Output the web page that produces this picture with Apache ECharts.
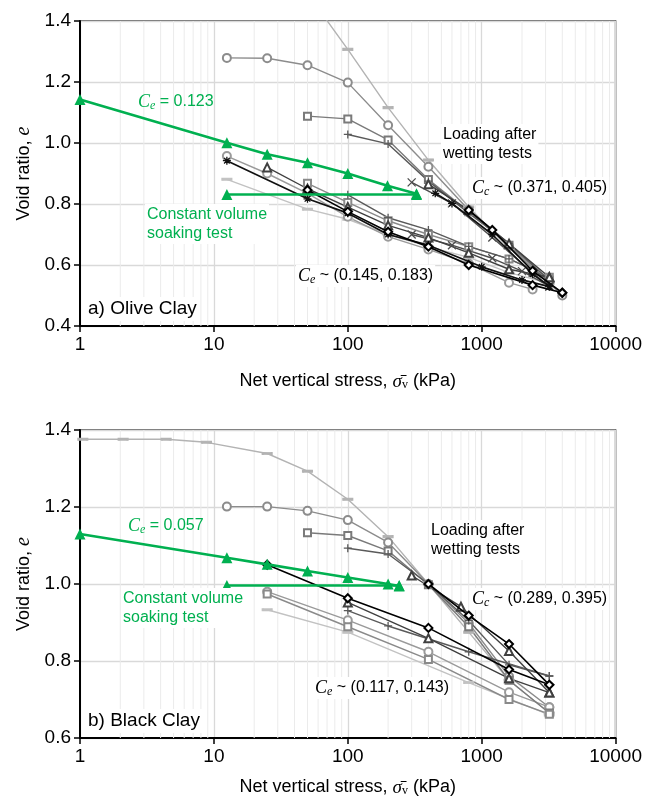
<!DOCTYPE html>
<html><head><meta charset="utf-8">
<script src="https://cdn.jsdelivr.net/npm/echarts/dist/echarts.min.js"></script>
<style>html,body{margin:0;padding:0;background:#fff}#c{width:645px;height:799px}</style>
</head><body><div id="c"></div>
<script>
// ---------- DATA (net vertical stress kPa, void ratio e) ----------
const X_TICKS = [1, 10, 100, 1000, 10000];
// a) Olive Clay - loading after wetting (upper group)
const oU_dash    = [[50,1.49],[100,1.307],[200,1.116],[400,0.944],[800,0.79],[1600,0.655],[3200,0.545]];
const oU_circle  = [[12.5,1.279],[25,1.278],[50,1.255],[100,1.198],[200,1.058],[400,0.922],[800,0.780],[1600,0.662],[4000,0.50]];
const oU_square  = [[50,1.088],[100,1.079],[200,1.010],[400,0.880],[800,0.775],[1600,0.665],[3200,0.55]];
const oU_plus    = [[100,1.028],[200,0.997],[400,0.875],[800,0.77],[1600,0.671],[3200,0.55]];
const oU_cross   = [[300,0.871],[600,0.802],[1200,0.69],[2400,0.575],[3200,0.529]];
const oU_tri     = [[400,0.865],[800,0.78],[1600,0.67],[3200,0.560]];
const oU_star    = [[450,0.835],[600,0.802],[1200,0.70],[2400,0.57],[3200,0.53]];
const oU_diamond = [[800,0.78],[1200,0.715],[2400,0.581],[4000,0.509]];
// a) Olive Clay - lower group
const oL_circle  = [[12.5,0.957],[25,0.90],[50,0.835],[100,0.758],[200,0.693],[400,0.651],[800,0.605],[1600,0.542],[2400,0.52]];
const oL_star    = [[12.5,0.942],[50,0.817],[100,0.77],[200,0.70],[400,0.665],[1000,0.594],[2000,0.551],[3200,0.529]];
const oL_tri     = [[25,0.920],[50,0.85],[100,0.79],[200,0.73],[400,0.69],[800,0.64],[1600,0.586],[3200,0.56]];
const oL_square  = [[50,0.868],[100,0.805],[200,0.745],[400,0.70],[800,0.66],[1600,0.62],[3200,0.56]];
const oL_diamond = [[50,0.846],[100,0.775],[200,0.709],[400,0.66],[800,0.600],[2400,0.534],[4000,0.509]];
const oL_dash    = [[12.5,0.881],[50,0.783],[100,0.75],[200,0.70],[400,0.66],[800,0.625],[1600,0.575],[3200,0.54]];
const oL_plus    = [[100,0.83],[200,0.755],[400,0.715],[800,0.661],[1600,0.62],[2400,0.585],[3200,0.55]];
const oL_cross   = [[300,0.70],[600,0.665],[1200,0.622],[2000,0.58],[3200,0.53]];
// a) Olive Clay - constant volume soaking test
const oG_unload  = [[326,0.834],[198,0.860],[100,0.900],[50,0.935],[25,0.963],[12.5,1.001],[1,1.143]];
const oG_const   = [[12.5,0.831],[326,0.831]];
// b) Black Clay - upper group
const bU_dash    = [[1.05,1.376],[2.1,1.376],[4.4,1.376],[8.8,1.368],[25,1.339],[50,1.293],[100,1.220],[200,1.123],[400,1.0],[800,0.875],[1600,0.75],[3200,0.665]];
const bU_circle  = [[12.5,1.201],[25,1.201],[50,1.190],[100,1.166],[200,1.108],[400,1.0],[800,0.898],[1600,0.76],[3200,0.68]];
const bU_square  = [[50,1.133],[100,1.126],[200,1.086],[400,0.998],[800,0.889],[1600,0.75],[3200,0.665]];
const bU_plus    = [[100,1.093],[200,1.078],[400,1.0],[800,0.905],[1600,0.79],[3200,0.761]];
const bU_tri     = [[300,1.022],[700,0.941],[1600,0.826],[3200,0.718]];
const bU_diamond = [[400,1.0],[800,0.918],[1600,0.844],[3200,0.738]];
// b) Black Clay - lower group
const bL_diamond = [[25,1.05],[100,0.963],[400,0.886],[1600,0.778],[3200,0.738]];
const bL_tri     = [[100,0.952],[400,0.859],[1600,0.755],[3200,0.718]];
const bL_plus    = [[100,0.931],[200,0.891],[800,0.824],[3200,0.761]];
const bL_circle  = [[25,0.98],[100,0.906],[400,0.824],[1600,0.719],[3200,0.68]];
const bL_square  = [[25,0.974],[100,0.889],[400,0.804],[1600,0.70],[3200,0.662]];
const bL_dash    = [[25,0.933],[100,0.875],[800,0.744],[3200,0.66]];
// b) Black Clay - constant volume soaking test
const bG_unload  = [[242,0.995],[200,1.0],[100,1.017],[50,1.034],[25,1.051],[12.5,1.068],[1,1.130]];
const bG_const   = [[12.5,0.996],[242,0.996]];

// ---------- STYLES ----------
const SANS = 'Liberation Sans, Arial, sans-serif';
const SERIF = 'Liberation Serif, Times New Roman, serif';
const GREEN = '#00B050';
const PLUS = 'path://M0,5L10,5M5,0L5,10';
const CROSS = 'path://M1,1L9,9M9,1L1,9';
const STAR = 'path://M0,5L10,5M5,0L5,10M1.5,1.5L8.5,8.5M8.5,1.5L1.5,8.5';
const ST = {
  dashU:  {c:'#b3b3b3', s:'rect', z:[9,2.5], w:1.4, stroke:false},
  dashL:  {c:'#c2c2c2', s:'rect', z:[9,2.5], w:1.4, stroke:false},
  circ:   {c:'#8c8c8c', s:'emptyCircle', z:8, w:1.4, stroke:false},
  circL:  {c:'#9a9a9a', s:'emptyCircle', z:8, w:1.4, stroke:false},
  sq:     {c:'#7a7a7a', s:'emptyRect', z:7, w:1.4, stroke:false},
  sqL:    {c:'#8a8a8a', s:'emptyRect', z:7, w:1.4, stroke:false},
  plus:   {c:'#5a5a5a', s:PLUS, z:8, w:1.4, stroke:true},
  cross:  {c:'#4d4d4d', s:CROSS, z:8, w:1.4, stroke:true},
  tri:    {c:'#404040', s:'emptyTriangle', z:8, w:1.4, stroke:false},
  star:   {c:'#111111', s:STAR, z:8, w:1.7, stroke:true},
  dia:    {c:'#000000', s:'emptyDiamond', z:8, w:1.6, stroke:false}
};

function mkSeries(data, st, g, zz) {
  const S = ST[st];
  return {
    type:'line', data: data, xAxisIndex:g, yAxisIndex:g, z: zz || 3,
    symbol: S.s, symbolSize: S.z, showAllSymbol:true, clip:true,
    lineStyle:{color:S.c, width:S.w, type:'solid'},
    itemStyle:{color: S.stroke ? 'rgba(0,0,0,0)' : S.c, borderColor:S.c, borderWidth: S.stroke ? 1.3 : 1.1},
    emphasis:{disabled:true}, silent:true
  };
}
function mkGreen(data, g) {
  return {
    type:'line', data:data, xAxisIndex:g, yAxisIndex:g, z:6,
    symbol:'triangle', symbolSize:11, showAllSymbol:true,
    lineStyle:{color:GREEN, width:2.6}, itemStyle:{color:GREEN},
    emphasis:{disabled:true}, silent:true
  };
}

// minor log gridlines (2..9 per decade), drawn as broken line segments under the data
const minorLines = [];
for (let d = 1; d < 10000; d *= 10) for (let k = 2; k <= 9; k++) minorLines.push(d * k);
function mkMinor(g, lo, hi) {
  const pts = [];
  minorLines.forEach(v => { pts.push([v, lo], [v, hi], '-'); });
  return {
    type:'line', data:pts, xAxisIndex:g, yAxisIndex:g, z:1, zlevel:0, silent:true,
    symbol:'none', connectNulls:false, clip:true,
    lineStyle:{color:'#ebebeb', width:1}, emphasis:{disabled:true}
  };
}

const series = [
  mkMinor(0, 0.4, 1.4), mkMinor(1, 0.6, 1.4),
  mkSeries(oU_dash,'dashU',0), mkSeries(oL_dash,'dashL',0),
  mkSeries(oU_circle,'circ',0), mkSeries(oL_circle,'circL',0),
  mkSeries(oU_square,'sq',0), mkSeries(oL_square,'sqL',0),
  mkSeries(oU_plus,'plus',0), mkSeries(oL_plus,'plus',0),
  mkSeries(oU_cross,'cross',0), mkSeries(oL_cross,'cross',0),
  mkSeries(oU_tri,'tri',0), mkSeries(oL_tri,'tri',0),
  mkSeries(oU_star,'star',0,4), mkSeries(oL_star,'star',0,4),
  mkSeries(oU_diamond,'dia',0,4), mkSeries(oL_diamond,'dia',0,4),
  mkGreen(oG_const,0), mkGreen(oG_unload,0),
  mkSeries(bU_dash,'dashU',1), mkSeries(bL_dash,'dashL',1),
  mkSeries(bU_circle,'circ',1), mkSeries(bL_circle,'circL',1),
  mkSeries(bU_square,'sq',1), mkSeries(bL_square,'sqL',1),
  mkSeries(bU_plus,'plus',1), mkSeries(bL_plus,'plus',1),
  mkSeries(bU_tri,'tri',1), mkSeries(bL_tri,'tri',1),
  mkSeries(bU_diamond,'dia',1,4), mkSeries(bL_diamond,'dia',1,4),
  mkGreen(bG_const,1), mkGreen(bG_unload,1)
];

function xAxisCfg(g, gap) {
  return {
    type:'log', logBase:10, min:X_TICKS[0], max:X_TICKS[X_TICKS.length-1], gridIndex:g,
    axisLine:{show:true, onZero:false, lineStyle:{color:'#000', width:2}},
    axisTick:{show:true, length:6, lineStyle:{color:'#000', width:1.5}},
    axisLabel:{fontSize:19, color:'#000', fontFamily:SANS, margin:9, formatter:v => String(Math.round(v))},
    splitLine:{show:true, lineStyle:{color:'#d9d9d9', width:1.3}},
    name:'Net vertical stress, {s|σ̄}{v|v} (kPa)', nameLocation:'middle', nameGap:gap,
    nameTextStyle:{fontSize:18, color:'#000', fontFamily:SANS,
      rich:{s:{fontSize:19, fontFamily:SERIF, fontStyle:'italic', color:'#000'},
            v:{fontSize:12, fontFamily:SERIF, color:'#000', padding:[7,0,0,0]}}}
  };
}
function yAxisCfg(g, mn) {
  return {
    type:'value', min:mn, max:1.4, interval:0.2, gridIndex:g,
    axisLine:{show:true, onZero:false, lineStyle:{color:'#000', width:2}},
    axisTick:{show:true, length:6, lineStyle:{color:'#000', width:1.5}},
    axisLabel:{fontSize:19, color:'#000', fontFamily:SANS, margin:9, formatter:v => v.toFixed(1)},
    splitLine:{show:true, lineStyle:{color:'#d9d9d9', width:1.3}},
    name:'Void ratio, {i|e}', nameLocation:'middle', nameGap:46, nameRotate:90,
    nameTextStyle:{fontSize:18, color:'#000', fontFamily:SANS,
      rich:{i:{fontSize:20, fontFamily:SERIF, fontStyle:'italic', color:'#000'}}}
  };
}

function coef(x, y, sym, sub, rest, color, bg) {
  return {type:'text', x:x, y:y, z:100, silent:true,
    style:{text:'{c|' + sym + '}{s|' + sub + '}{t|' + rest + '}',
      backgroundColor: bg ? '#fff' : null, padding: bg ? [1,2,1,2] : 0,
      rich:{c:{fontFamily:SERIF, fontStyle:'italic', fontSize:18, fill:color, color:color},
            s:{fontFamily:SERIF, fontStyle:'italic', fontSize:12, fill:color, color:color, padding:[8,0,0,0]},
            t:{fontFamily:SANS, fontSize:16, fill:color, color:color}}}};
}
function txt(x, y, s, color, size, bg) {
  return {type:'text', x:x, y:y, z:100, silent:true,
    style:{text:s, fill:color, fontFamily:SANS, fontSize:size, lineHeight:size + 3,
      backgroundColor: bg ? '#fff' : null, padding: bg ? [1,2,1,2] : 0}};
}

const graphics = [
  coef(138, 92, 'C', 'e', ' = 0.123', GREEN, false),
  txt(145, 204, 'Constant volume\nsoaking test', GREEN, 16, true),
  txt(441, 124, 'Loading after\nwetting tests', '#000', 16, true),
  coef(470, 177, 'C', 'c', ' ~ (0.371, 0.405)', '#000', true),
  coef(296, 265, 'C', 'e', ' ~ (0.145, 0.183)', '#000', true),
  txt(86, 297, 'a) Olive Clay', '#000', 19, true),
  coef(128, 516, 'C', 'e', ' = 0.057', GREEN, false),
  txt(121, 588, 'Constant volume\nsoaking test', GREEN, 16, true),
  txt(429, 520, 'Loading after\nwetting tests', '#000', 16, true),
  coef(470, 588, 'C', 'c', ' ~ (0.289, 0.395)', '#000', true),
  coef(313, 677, 'C', 'e', ' ~ (0.117, 0.143)', '#000', true),
  txt(86, 709, 'b) Black Clay', '#000', 19, true)
];

const chart = echarts.init(document.getElementById('c'), null, {renderer:'canvas'});
chart.setOption({
  animation:false,
  backgroundColor:'#fff',
  grid:[
    {left:80, top:21, width:538, height:305, show:true, borderColor:'#333', borderWidth:1.5, backgroundColor:'transparent'},
    {left:80, top:430, width:538, height:308, show:true, borderColor:'#333', borderWidth:1.5, backgroundColor:'transparent'}
  ],
  xAxis:[xAxisCfg(0, 46), xAxisCfg(1, 40)],
  yAxis:[yAxisCfg(0, 0.4), yAxisCfg(1, 0.6)],
  series: series,
  graphic: graphics
});
</script></body></html>
